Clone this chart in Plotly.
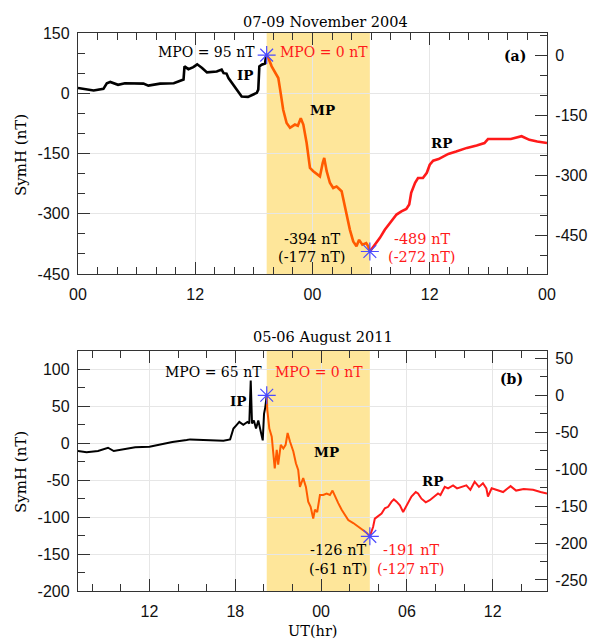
import plotly.graph_objects as go

# ---------------- Panel (a): 07-09 November 2004 (hours from 7 Nov 00 UT) ----------------
t_ip_a = [0, 1.6, 2.6, 2.95, 3.3, 4.1, 4.8, 6.7, 7.2, 8.4, 9.8, 10.45, 10.8, 10.9, 11.3, 11.8,
          12.2, 12.7, 13.2, 14.2, 14.7, 14.9, 15.2, 15.4, 15.9, 16.25, 16.75, 17.4, 17.9, 18.3,
          18.45, 18.56, 18.8, 19.14, 19.24, 19.31]
symh_ip_a = [13, 7, 11, 25, 28, 21, 25, 24, 19, 24, 25, 32, 34, 67, 60, 65,
             72, 63, 52, 54, 59, 50, 49, 38, 21, 9, -8, -9, -4, 1,
             9, 67, 71, 74, 92, 95]
t_mp_a = [19.31, 19.48, 19.82, 20.16, 20.5, 20.74, 21.0, 21.35, 21.7, 22.2, 22.5, 22.8, 23.06,
          23.4, 23.74, 24.08, 24.6, 24.76, 25.04, 25.2, 25.45, 25.78, 26.12, 26.47, 26.98, 27.15,
          27.5, 27.83, 28.17, 28.5, 28.77, 29.1, 29.5, 29.7, 29.87]
symh_mp_a = [95, 88, 67, 54, 38, 1, -41, -74, -86, -78, -81, -62, -78,
             -124, -186, -194, -203, -207, -174, -161, -194, -223, -236, -232, -244, -265,
             -306, -340, -369, -381, -365, -377, -373, -381, -394]
t_rp_a = [29.87, 30.4, 30.9, 31.4, 31.9, 32.6, 33.1, 33.6, 33.9, 34.1, 34.5, 34.8, 35.3, 35.7,
          36.0, 36.35, 36.9, 37.5, 37.9, 38.7, 39.8, 40.8, 41.6, 41.96, 43.1, 44.3, 45.4, 46.2,
          47.0, 48.0]
symh_rp_a = [-394, -377, -360, -340, -323, -302, -294, -288, -277, -248, -223, -211, -211, -198,
             -178, -168, -164, -157, -151, -145, -136, -130, -124, -114, -114, -114, -107, -116,
             -120, -124]
mpo_a = 95

# ---------------- Panel (b): 05-06 August 2011 (hours from 5 Aug 00 UT) ----------------
t_ip_b = [7.0, 7.6, 8.4, 9.1, 9.5, 10.2, 11.0, 12.0, 12.8, 13.6, 14.6, 14.84, 16.24, 17.17,
          17.64, 17.87, 18.1, 18.28, 18.56, 18.85, 18.98, 19.08, 19.17, 19.3, 19.45, 19.61,
          19.78, 19.92, 20.01, 20.1, 20.2]
symh_ip_b = [-10.5, -12, -10.5, -6, -10.5, -8, -5.5, -4.7, -1, 1.7, 4.4, 5.3, 4.3, 3.4,
             5.3, 20, 25, 29, 25, 29, 27, 85, 27, 31, 20, 31,
             16, 4, 40, 49, 65]
t_mp_b = [20.2, 20.24, 20.38, 20.55, 20.66, 20.76, 20.9, 21.0, 21.18, 21.36, 21.52, 21.66,
          21.83, 22.06, 22.24, 22.4, 22.52, 22.75, 22.94, 23.1, 23.27, 23.45, 23.57, 23.73,
          23.92, 24.15, 24.39, 24.62, 24.8, 24.97, 25.2, 25.44, 25.67, 25.9, 26.25, 26.6,
          26.94, 27.18, 27.41]
symh_mp_b = [65, 45, 20, 9, -14, -34, -9, -29, -2, -7, -2, 14,
             2, -11, -27, -36, -59, -47, -59, -79, -86, -102, -90, -93,
             -70, -70, -68, -70, -64, -72, -81, -90, -97, -104, -108, -113,
             -117, -121, -126]
t_rp_b = [27.41, 27.64, 27.76, 27.99, 28.23, 28.46, 28.69, 28.93, 29.09, 29.28, 29.51, 29.74,
          29.93, 30.09, 30.32, 30.62, 30.78, 31.02, 31.32, 31.6, 31.95, 32.18, 32.35, 32.65,
          32.88, 33.23, 33.51, 33.82, 34.16, 34.44, 34.74, 35.04, 35.32, 35.56, 35.67, 35.93,
          36.2, 36.73, 37.25, 37.64, 38.17, 38.82, 39.35, 39.8]
symh_rp_b = [-126, -113, -102, -99, -95, -88, -86, -79, -76, -79, -84, -93,
             -86, -79, -72, -66, -68, -75, -80, -77, -72, -68, -70, -59,
             -61, -57, -61, -59, -57, -63, -52, -59, -54, -61, -72, -61,
             -63, -66, -58, -64, -62, -63, -66, -68]
mpo_b = 65

# tick labels
xt_a_vals = [0, 12, 24, 36, 48]
xt_a_text = ["00", "12", "00", "12", "00"]
xt_b_vals = [12, 18, 24, 30, 36]
xt_b_text = ["12", "18", "00", "06", "12"]
yl_a_vals = [-450, -300, -150, 0, 150]
yr_a_vals = [-450, -300, -150, 0]
yl_b_vals = [-200, -150, -100, -50, 0, 50, 100]
yr_b_vals = [-250, -200, -150, -100, -50, 0, 50]

# ---------------- styling ----------------
W, H = 589, 640
L, R, T, B = 78, 547, 33, 591
SERIF = "DejaVu Serif"
SANS = "Liberation Sans, Arial"
BLACK = "#000000"
ORANGE = "#FF5A00"
RED = "#FF1A1A"
SHADE = "#FEE69A"
STAR = "#4B4BFF"
AXC = "#333333"


def px(xp):
    return (xp - L) / (R - L)


def py(yp):
    return (B - yp) / (B - T)


def lbl(v):
    return str(int(v)).replace("\u2212", "-")


fig = go.Figure()

panels = [
    dict(xa="x", ya="y", yr="y3", t=(t_ip_a, t_mp_a, t_rp_a), s=(symh_ip_a, symh_mp_a, symh_rp_a), lw=2.6),
    dict(xa="x2", ya="y2", yr="y4", t=(t_ip_b, t_mp_b, t_rp_b), s=(symh_ip_b, symh_mp_b, symh_rp_b), lw=2.0),
]

for p in panels:
    (ti, tm, tr), (si, sm, sr) = p["t"], p["s"]
    fig.add_shape(type="rect", xref=p["xa"], yref=p["ya"] + " domain", x0=tm[0], x1=tm[-1],
                  y0=0, y1=1, fillcolor=SHADE, line_width=0, layer="below")
    fig.add_trace(go.Scatter(x=ti, y=si, xaxis=p["xa"], yaxis=p["ya"], mode="lines",
                             line=dict(color=BLACK, width=p["lw"]), showlegend=False, hoverinfo="skip"))
    fig.add_trace(go.Scatter(x=tm, y=sm, xaxis=p["xa"], yaxis=p["ya"], mode="lines",
                             line=dict(color=ORANGE, width=p["lw"]), showlegend=False, hoverinfo="skip"))
    fig.add_trace(go.Scatter(x=tr, y=sr, xaxis=p["xa"], yaxis=p["ya"], mode="lines",
                             line=dict(color=RED, width=p["lw"]), showlegend=False, hoverinfo="skip"))
    fig.add_trace(go.Scatter(x=[tm[0], tm[-1]], y=[sm[0], sm[-1]], xaxis=p["xa"], yaxis=p["ya"],
                             mode="markers",
                             marker=dict(symbol="asterisk-open", size=15, color=STAR,
                                         line=dict(color=STAR, width=1.2)),
                             showlegend=False, hoverinfo="skip"))
    fig.add_trace(go.Scatter(x=[None], y=[None], xaxis=p["xa"], yaxis=p["yr"], mode="lines",
                             showlegend=False, hoverinfo="skip"))

dom_top = [py(274), 1.0]
dom_bot = [0.0, py(351)]

common_ax = dict(showline=True, linecolor=AXC, linewidth=1.3, ticks="inside", ticklen=12,
                 tickwidth=1, tickcolor=AXC, tickfont=dict(family=SANS, size=16, color="#111"),
                 zeroline=False, gridcolor="#e6e6e6", gridwidth=1, automargin=False)


def minor(vals):
    return dict(tickmode="array", tickvals=vals, ticks="inside", ticklen=7, tickcolor=AXC,
                tickwidth=1, showgrid=False)


fig.update_layout(
    width=W, height=H, margin=dict(l=L, r=W - R, t=T, b=H - B, autoexpand=False),
    paper_bgcolor="white", plot_bgcolor="white", showlegend=False,
    xaxis=dict(common_ax, domain=[0, 1], anchor="y", range=[0, 48], tickmode="array",
               tickvals=xt_a_vals, ticktext=xt_a_text, mirror="ticks", showgrid=True,
               ticklabelstandoff=6,
               minor=minor([v for v in range(0, 49, 2) if v % 12])),
    yaxis=dict(common_ax, domain=dom_top, anchor="x", range=[-450, 150], tickmode="array",
               tickvals=yl_a_vals, ticktext=[lbl(v) for v in yl_a_vals], showgrid=True,
               ticklabelstandoff=4,
               minor=minor([v for v in range(-450, 151, 50) if v % 150])),
    yaxis3=dict(common_ax, overlaying="y", side="right", anchor="x",
                range=[-450 - mpo_a, 150 - mpo_a], tickmode="array",
                tickvals=yr_a_vals, ticktext=[lbl(v) for v in yr_a_vals], showgrid=False,
                ticklabelstandoff=4,
                minor=minor([v for v in range(-500, 51, 50) if v % 150])),
    xaxis2=dict(common_ax, domain=[0, 1], anchor="y2", range=[7, 39.8], tickmode="array",
                tickvals=xt_b_vals, ticktext=xt_b_text, mirror="ticks", showgrid=True,
                ticklabelstandoff=6,
                minor=minor([v for v in range(8, 40, 2) if v % 6])),
    yaxis2=dict(common_ax, domain=dom_bot, anchor="x2", range=[-200, 125], tickmode="array",
                tickvals=yl_b_vals, ticktext=[lbl(v) for v in yl_b_vals], showgrid=True,
                ticklabelstandoff=4,
                minor=minor([v for v in range(-200, 126, 25) if v % 50])),
    yaxis4=dict(common_ax, overlaying="y2", side="right", anchor="x2",
                range=[-200 - mpo_b, 125 - mpo_b], tickmode="array",
                tickvals=yr_b_vals, ticktext=[lbl(v) for v in yr_b_vals], showgrid=False,
                ticklabelstandoff=4,
                minor=minor([v for v in range(-250, 61, 25) if v % 50])),
)

annots = [
    # panel (a)
    ("07-09 November 2004", 325, 22, "center", BLACK, False, 14.5),
    ("MPO = 95 nT", 257, 52, "right", BLACK, False, 14),
    ("MPO = 0 nT", 278, 52, "left", RED, False, 14),
    ("(a)", 515, 56, "center", BLACK, True, 14),
    ("IP", 245, 75, "center", BLACK, True, 13.5),
    ("MP", 322, 110, "center", BLACK, True, 13.5),
    ("RP", 441, 143, "center", BLACK, True, 13.5),
    ("-394 nT", 312, 239, "center", BLACK, False, 14.5),
    ("(-177 nT)", 312, 257, "center", BLACK, False, 14.5),
    ("-489 nT", 422, 239, "center", RED, False, 14.5),
    ("(-272 nT)", 422, 257, "center", RED, False, 14.5),
    # panel (b)
    ("05-06 August 2011", 323, 337, "center", BLACK, False, 14.5),
    ("MPO = 65 nT", 264, 372, "right", BLACK, False, 14),
    ("MPO = 0 nT", 273, 372, "left", RED, False, 14),
    ("(b)", 511, 379, "center", BLACK, True, 14),
    ("IP", 238, 401, "center", BLACK, True, 13.5),
    ("MP", 326, 452, "center", BLACK, True, 13.5),
    ("RP", 432, 481, "center", BLACK, True, 13.5),
    ("-126 nT", 338, 550, "center", BLACK, False, 14.5),
    ("(-61 nT)", 338, 569, "center", BLACK, False, 14.5),
    ("-191 nT", 411, 550, "center", RED, False, 14.5),
    ("(-127 nT)", 411, 569, "center", RED, False, 14.5),
    ("UT(hr)", 312, 631, "center", BLACK, False, 14.5),
]
for text, xp_, yp_, anchor, col, bold, size in annots:
    fig.add_annotation(text=f"<b>{text}</b>" if bold else text, xref="paper", yref="paper",
                       x=px(xp_), y=py(yp_), xanchor=anchor, yanchor="middle", showarrow=False,
                       font=dict(family=SERIF, size=size, color=col))

for yc in (155, 472):
    fig.add_annotation(text="SymH (nT)", xref="paper", yref="paper", x=px(21), y=py(yc),
                       xanchor="center", yanchor="middle", textangle=-90, showarrow=False,
                       font=dict(family=SERIF, size=15, color=BLACK))

fig.write_html("out.html", config={"displayModeBar": False},
               post_script="document.body.style.margin='0';document.body.style.overflow='hidden';")
